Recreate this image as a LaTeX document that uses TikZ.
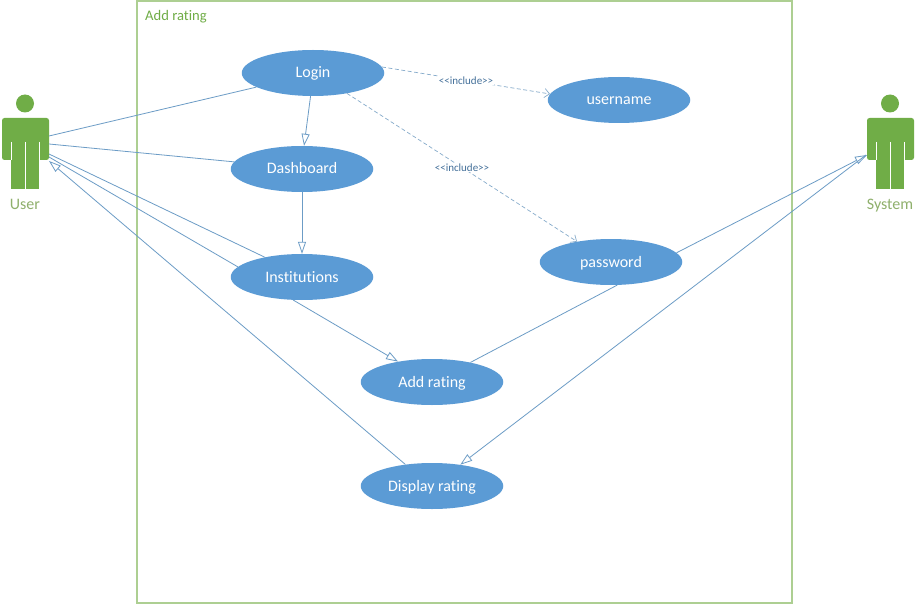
\documentclass[tikz,border=0pt]{standalone}
\usepackage{fontspec}
\setmainfont{Carlito}[Ligatures=NoCommon]
\usetikzlibrary{arrows.meta,shapes.geometric}
\definecolor{ucblue}{HTML}{5B9BD5}
\definecolor{ucline}{HTML}{6C9CC6}
\definecolor{ucdash}{HTML}{86ABCB}
\definecolor{ucgreen}{HTML}{70AD47}
\definecolor{ucbox}{HTML}{ADCF92}
\definecolor{ucactorlabel}{HTML}{8FB06C}
\definecolor{uclabel}{HTML}{44709A}
\tikzset{
  usecase/.style={ellipse,fill=ucblue,text=white,minimum width=142.5pt,minimum height=46pt,inner sep=0pt,text height=11pt,text depth=1pt,font=\fontsize{16}{18}\selectfont},
  assoc/.style={draw=ucline,line width=0.8pt},
  gen/.style={assoc,-{Triangle[open,fill=white,length=12pt,width=8pt]}},
  incl/.style={draw=ucdash,line width=0.7pt,dashed,dash pattern=on 4pt off 2.5pt,-{Straight Barb[length=5pt,width=9pt]}},
  incllabel/.style={fill=white,text=uclabel,inner sep=1pt,font=\fontsize{11}{12}\selectfont},
  actorlabel/.style={text=ucactorlabel,inner sep=0pt,text height=11pt,text depth=1pt,font=\fontsize{16}{18}\selectfont},
  actorzone/.style={inner sep=0pt,minimum width=47pt,minimum height=94pt},
}
\newcommand{\ucactor}[1]{%
  \begin{scope}[xshift=#1pt]
    \fill[ucgreen] (25,103.5) circle (9);
    \fill[ucgreen,rounded corners=2.5pt] (2,160) -- (2,118) -- (49,118) -- (49,160) -- cycle;
    \fill[ucgreen] (11,150) rectangle (39,189);
    \draw[white,line width=0.9pt] (11,142) -- (11,160.5) (39,142) -- (39,160.5) (25,142) -- (25,189.5);
  \end{scope}}
\newcommand{\incltext}{{<}{<}include{>}{>}}
\begin{document}
\begin{tikzpicture}[x=1pt,y=-1pt]
\useasboundingbox (0,0) rectangle (923,604);
\fill[white] (0,0) rectangle (923,604);
\draw[ucbox,line width=1.5pt] (137,1) rectangle (792,603);
\node[anchor=west,text=ucgreen,inner sep=0pt,font=\fontsize{14.6}{16}\selectfont] (title) at (145,17) {Add rating};
% actors
\ucactor{0}
\ucactor{865}
\node[actorzone] (user) at (25.5,142) {};
\node[actorzone] (system) at (890.5,142) {};
\node[actorlabel] (userlabel) at (25,204) {User};
\node[actorlabel] (systemlabel) at (890,204) {System};
\coordinate (ua) at (49,136);
\coordinate (ub) at (49,144);
\coordinate (uc) at (49,154);
\coordinate (ud) at (49,157);
\coordinate (ue) at (49,161);
\coordinate (sa) at (867,155);
\coordinate (sb) at (866,155);
% use cases
\node[usecase] (login) at (313,73) {Login};
\node[usecase] (dashboard) at (302,169) {Dashboard};
\node[usecase] (institutions) at (302,277) {Institutions};
\node[usecase] (username) at (619,100) {username};
\node[usecase] (password) at (611,262) {password};
\node[usecase] (addrating) at (432,382) {Add rating};
\node[usecase] (display) at (432,486) {Display rating};
% connectors
\draw[assoc] (ua) -- (login.194);
\draw[assoc] (ub) -- (dashboard.174);
\draw[assoc] (uc) -- (institutions.152);
\draw[assoc] (ud) -- (institutions.171);
\draw[gen] (display.141) -- (ue);
\draw[gen] (login.264) -- (dashboard.85);
\draw[gen] (dashboard.south) -- (institutions.north);
\draw[gen] (institutions.249) -- (addrating.149);
\draw[assoc] (addrating.27) -- (password.285);
\draw[gen] (password.8) -- (sa);
\draw[gen] (sb) -- (display.37);
\draw[incl] (login.5) -- node[incllabel,pos=0.5] (inc1) {\incltext} (username.175);
\draw[incl] (login.329) -- node[incllabel,pos=0.5] (inc2) {\incltext} (password.149);
\end{tikzpicture}
\end{document}
